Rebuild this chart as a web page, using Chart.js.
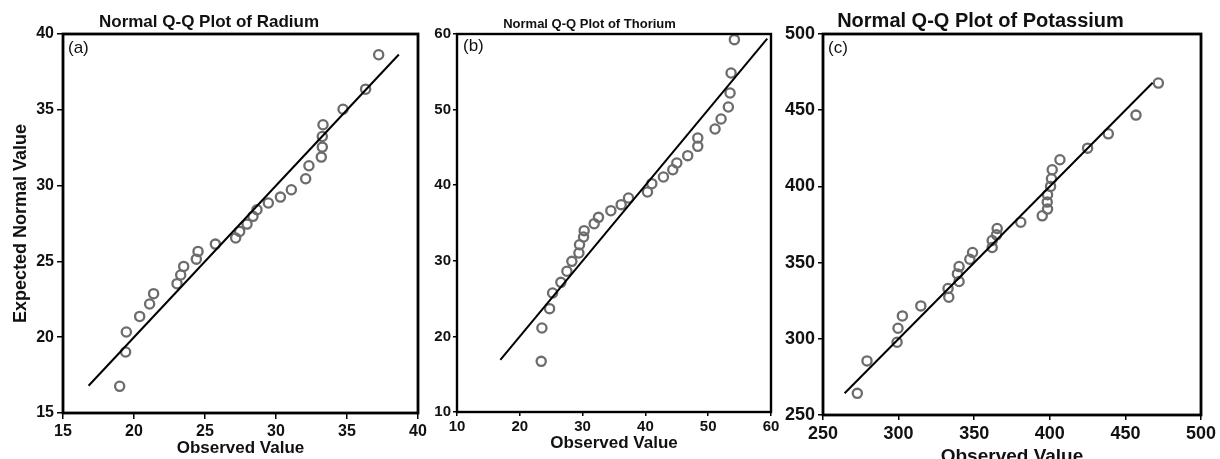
<!DOCTYPE html>
<html><head><meta charset="utf-8">
<script src="https://cdn.jsdelivr.net/npm/chart.js@4.4.1/dist/chart.umd.min.js"></script>
<style>
html,body{margin:0;padding:0;background:#fff;width:1220px;height:459px;overflow:hidden}
canvas{position:absolute;top:0}
.tag{position:absolute;font:17px 'Liberation Sans',Arial,sans-serif;color:#111;line-height:20px}
</style></head><body>
<canvas id="ca" width="440" height="459" style="left:0px"></canvas>
<canvas id="cb" width="380" height="459" style="left:408px"></canvas>
<canvas id="cc" width="460" height="459" style="left:760px"></canvas>
<div class="tag" style="left:68px;top:38px">(a)</div>
<div class="tag" style="left:463px;top:36px">(b)</div>
<div class="tag" style="left:828px;top:38px">(c)</div>
<script>
// ---- data ----
const radiumObserved = [18.99,19.41,19.46,20.40,21.10,21.38,23.03,23.29,23.50,24.39,24.51,25.73,27.16,27.44,27.96,28.38,28.66,29.46,30.31,31.08,32.09,32.32,33.19,33.26,33.26,33.31,34.72,36.31,37.23];
const radiumExpected = [16.76,19.02,20.34,21.37,22.19,22.87,23.53,24.10,24.67,25.15,25.66,26.14,26.54,26.98,27.46,27.97,28.41,28.85,29.24,29.73,30.45,31.31,31.88,32.54,33.24,34.01,35.04,36.36,38.63];
const radiumLine = [16.8, 38.65];

const thoriumObserved = [23.41,23.52,24.74,25.22,26.54,27.50,28.29,29.41,29.51,30.15,30.25,31.84,32.53,34.50,36.14,37.31,40.33,41.02,42.87,44.36,45.00,46.74,48.34,48.34,51.09,52.05,53.21,53.48,53.64,54.17];
const thoriumExpected = [16.70,21.11,23.67,25.74,27.15,28.61,29.93,31.03,32.13,33.15,33.99,34.91,35.75,36.63,37.43,38.31,39.10,40.20,41.08,42.05,42.94,43.91,45.14,46.24,47.43,48.76,50.34,52.20,54.84,59.25];
const thoriumLine = [16.9, 59.4];

const potassiumObserved = [272.7,279.1,299.0,299.6,302.5,314.7,333.2,332.7,340.0,338.9,340.0,347.1,348.9,361.9,361.9,364.8,365.2,380.8,395.0,398.5,398.3,398.5,400.5,401.1,401.6,406.7,425.0,438.7,457.0,471.8];
const potassiumExpected = [264.2,285.5,297.7,306.9,315.0,321.6,327.3,333.0,337.6,342.6,347.4,352.2,356.6,359.9,364.5,368.2,372.4,376.5,380.7,385.1,389.7,394.5,400.0,405.0,410.9,417.5,425.1,434.5,446.8,467.8];
const potassiumLine = [264.3, 468.0];

const radiumTicks = [15, 40, 5];
const thoriumTicks = [10, 60, 10];
const potassiumTicks = [250, 500, 50];

const FONT = "'Liberation Sans', Arial, Helvetica, sans-serif";
const NARROW = "'Liberation Sans Narrow', 'Liberation Sans', Arial, sans-serif";
Chart.defaults.font.family = FONT;
Chart.defaults.color = '#111';

const framePlugin = {
  id: 'frame',
  afterDatasetsDraw(chart, args, opts) {
    const {ctx, chartArea: a} = chart;
    ctx.save();
    ctx.strokeStyle = '#000';
    ctx.lineWidth = opts.width || 2.5;
    ctx.strokeRect(a.left, a.top, a.right - a.left, a.bottom - a.top);
    ctx.restore();
  }
};

function makeChart(id, p) {
  const pts = p.obs.map((v, i) => ({x: v, y: p.exp[i]}));
  const line = p.line.map(v => ({x: v, y: v}));
  const tickFont = {size: p.tickSize, weight: 'bold', family: p.tickFamily || FONT};
  return new Chart(document.getElementById(id), {
    type: 'scatter',
    data: {
      datasets: [
        {type: 'line', data: line, borderColor: '#000', borderWidth: 2, pointRadius: 0, order: 0, clip: false},
        {data: pts, borderColor: '#6c6c6c', backgroundColor: 'rgba(255,255,255,0)', borderWidth: 2.3, pointRadius: 4.6, order: 1, clip: false}
      ]
    },
    options: {
      responsive: false, animation: false, events: [],
      layout: {padding: {left: p.padL, right: p.padR, top: 0, bottom: 0}},
      plugins: {
        legend: {display: false}, tooltip: {enabled: false},
        title: {display: true, text: p.title, color: '#111',
          font: {size: p.titleSize, weight: 'bold', family: p.titleFamily || FONT},
          padding: {top: p.titleTop, bottom: p.titleBottom}},
        frame: {width: p.frameW}
      },
      scales: {
        x: {
          type: 'linear', min: p.ticks[0], max: p.ticks[1],
          ticks: {stepSize: p.ticks[2], color: '#111', font: tickFont, padding: p.tickPad, maxRotation: 0, autoSkip: false},
          grid: {drawOnChartArea: false, drawTicks: true, tickLength: p.tickLen, color: '#000', lineWidth: 1.5},
          border: {display: false},
          title: {display: true, text: 'Observed Value', color: '#111',
            font: {size: p.xTitleSize, weight: 'bold'}, padding: {top: 0, bottom: p.xTitlePad}},
          afterFit(s) { s.height = p.xH; s.paddingLeft = 0; s.paddingRight = 0; }
        },
        y: {
          type: 'linear', min: p.ticks[0], max: p.ticks[1],
          ticks: {stepSize: p.ticks[2], color: '#111', font: tickFont, padding: p.tickPad, autoSkip: false},
          grid: {drawOnChartArea: false, drawTicks: true, tickLength: p.tickLen, color: '#000', lineWidth: 1.5},
          border: {display: false},
          title: {display: !!p.yTitle, text: p.yTitle || '', color: '#111',
            font: {size: 18, weight: 'bold'}, padding: {top: 10, bottom: 0}},
          afterFit(s) { s.width = p.yW; s.paddingTop = 0; s.paddingBottom = 0; }
        }
      }
    },
    plugins: [framePlugin]
  });
}

makeChart('ca', {
  obs: radiumObserved, exp: radiumExpected, line: radiumLine, ticks: radiumTicks,
  title: 'Normal Q-Q Plot of Radium', titleSize: 17, titleTop: 12, titleBottom: 1.6,
  yTitle: 'Expected Normal Value', tickSize: 16, tickPad: 3, tickLen: 6,
  xTitleSize: 17, xTitlePad: 0, xH: 46, yW: 63, padL: 0, padR: 22, frameW: 2.8
});
makeChart('cb', {
  obs: thoriumObserved, exp: thoriumExpected, line: thoriumLine, ticks: thoriumTicks,
  title: 'Normal Q-Q Plot of Thorium', titleSize: 13, titleTop: 16.2, titleBottom: 2.2,
  tickSize: 15, tickPad: 2, tickLen: 4, tickFamily: NARROW, titleFamily: NARROW,
  xTitleSize: 17, xTitlePad: 5.3, xH: 47, yW: 49, padL: 0, padR: 17, frameW: 2.4
});
makeChart('cc', {
  obs: potassiumObserved, exp: potassiumExpected, line: potassiumLine, ticks: potassiumTicks,
  title: 'Normal Q-Q Plot of Potassium', titleSize: 20, titleTop: 9.7, titleBottom: 0.3,
  tickSize: 18, tickPad: 3, tickLen: 5,
  xTitleSize: 19, xTitlePad: -9.4, xH: 44, yW: 63, padL: 0, padR: 19, frameW: 2.8
});
</script>
</body></html>
